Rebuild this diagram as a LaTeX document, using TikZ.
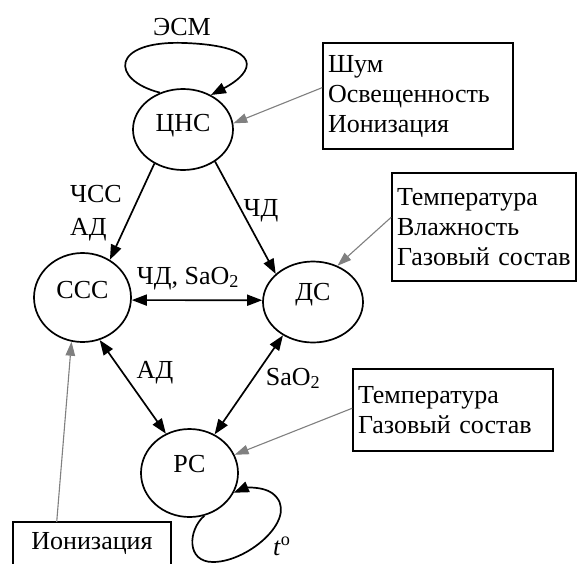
\documentclass[tikz,border=0pt]{standalone}
\usepackage{fontspec}
\setmainfont{Liberation Serif}
\usetikzlibrary{arrows.meta,shapes.geometric}
\begin{document}
\begin{tikzpicture}[x=1pt,y=-1pt,
  every node/.style={font=\fontsize{26}{30}\selectfont},
  st/.style={ellipse, draw, line width=1.7pt, inner sep=0pt, text height=17pt},
  box/.style={draw, line width=1.6pt, align=left, inner xsep=5pt, inner ysep=0pt},
  lab/.style={anchor=base, inner sep=0pt},
  arr/.style={line width=1.7pt, -{Triangle[length=15pt,width=11pt]}},
  darr/.style={line width=1.7pt, {Triangle[length=15pt,width=11pt]}-{Triangle[length=15pt,width=11pt]}},
  garr/.style={line width=1.1pt, draw=gray, -{Triangle[length=14pt,width=9.5pt]}}
]
\clip (0,0) rectangle (577,563);
\fill[white] (0,0) rectangle (577,563);

% state nodes
\node[st, minimum width=100pt, minimum height=81pt, text depth=13pt] (cns) at (183,129.5) {ЦНС};
\node[st, minimum width=97pt, minimum height=89pt, text depth=15pt] (sss) at (82.5,297.5) {ССС};
\node[st, minimum width=100pt, minimum height=81pt, text depth=20pt] (ds) at (313,302) {ДС};
\node[st, minimum width=97pt, minimum height=88pt, text depth=18pt] (rs) at (189.5,473) {РС};

% factor boxes
\node[box, text width=180pt, minimum height=106pt] (b1) at (418,96) {Шум\\Освещенность\\Ионизация};
\node[box, text width=174pt, minimum height=108pt] (b2) at (484,227) {Температура\\Влажность\\Газовый состав};
\node[box, text width=190pt, minimum height=82pt] (b3) at (453,410) {Температура\\Газовый состав};
\node[minimum width=158pt, minimum height=42pt] (b4) at (92,543) {Ионизация};
\draw[line width=1.6pt] (b4.south west) -- (b4.north west) -- (b4.north east) -- (b4.south east);

% labels
\node[lab] (lesm) at (182,35.5) {ЭСМ};
\node[lab, anchor=base west] (lchss) at (70,202) {ЧСС};
\node[lab, anchor=base west] (lad1) at (70,235.5) {АД};
\node[lab] (lchd) at (261,216.5) {ЧД};
\node[lab] (lchdsao) at (188,284) {ЧД, SaO\textsubscript{2}};
\node[lab] (lad2) at (155,378.5) {АД};
\node[lab] (lsao) at (293,385) {SaO\textsubscript{2}};
\node[lab, anchor=base west] (lt) at (273,555) {\textit{t}\textsuperscript{o}};

% connectors
\draw[arr] (cns.230) -- (sss.54);
\draw[arr] (cns.315) -- (ds.143);
\draw[darr] (sss.357) -- (ds.178);
\draw[darr] (sss.292) -- (rs.121);
\draw[darr] (ds.228) -- (rs.57);

% environment influences
\draw[garr] (b1.175) -- (cns.7);
\draw[garr] (b2.174) -- (ds.56);
\draw[garr] (b3.179) -- (rs.22);
\draw[garr] (b4.149) -- (sss.256);

% self loops
\draw[arr] (cns.122) .. controls (110,80) and (110,40) .. (185,43)
  .. controls (265,46) and (255,72) .. (cns.51);
\draw[arr] (rs.289) .. controls (188,530) and (186,562) .. (213,562)
  .. controls (250,562) and (302,515) .. (272,493)
  .. controls (262,486) and (245,488) .. (rs.336);
\end{tikzpicture}
\end{document}
